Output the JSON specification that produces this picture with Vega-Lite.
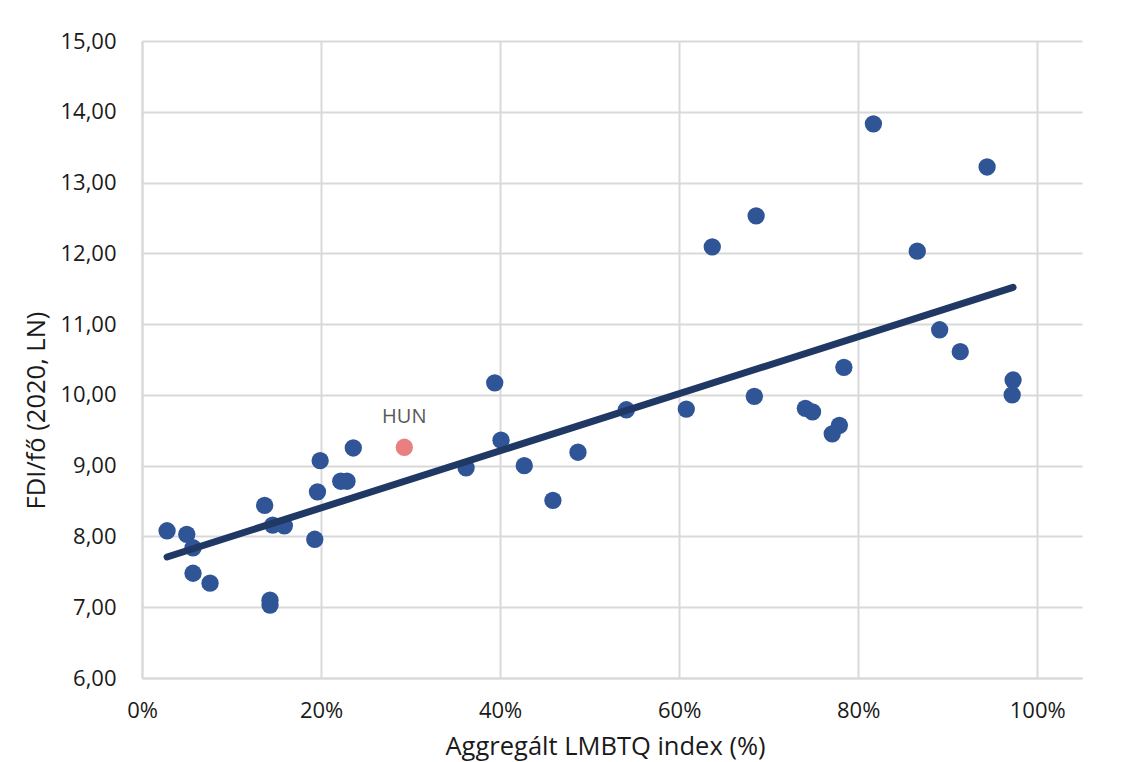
{
  "$schema": "https://vega.github.io/schema/vega-lite/v6.json",
  "width": 940,
  "height": 637,
  "autosize": {"type": "none"},
  "padding": {"left": 142, "top": 41, "right": 50, "bottom": 84},
  "background": "white",
  "config": {
    "font": "Open Sans",
    "view": {"stroke": null},
    "axis": {
      "gridColor": "#d9d9d9",
      "gridWidth": 2,
      "domainColor": "#d9d9d9",
      "domainWidth": 2,
      "ticks": false,
      "labelFont": "Open Sans",
      "labelFontSize": 22,
      "labelColor": "#1a1a1a",
      "titleFont": "Open Sans",
      "titleFontSize": 25.5,
      "titleFontWeight": "normal",
      "titleColor": "#1a1a1a"
    }
  },
  "datasets": {
    "pts": [
      {"lmbtq": 0.028, "fdi": 8.08, "country": ""},
      {"lmbtq": 0.050, "fdi": 8.03, "country": ""},
      {"lmbtq": 0.057, "fdi": 7.84, "country": ""},
      {"lmbtq": 0.057, "fdi": 7.48, "country": ""},
      {"lmbtq": 0.076, "fdi": 7.34, "country": ""},
      {"lmbtq": 0.137, "fdi": 8.44, "country": ""},
      {"lmbtq": 0.146, "fdi": 8.16, "country": ""},
      {"lmbtq": 0.159, "fdi": 8.15, "country": ""},
      {"lmbtq": 0.143, "fdi": 7.10, "country": ""},
      {"lmbtq": 0.143, "fdi": 7.03, "country": ""},
      {"lmbtq": 0.196, "fdi": 8.63, "country": ""},
      {"lmbtq": 0.193, "fdi": 7.96, "country": ""},
      {"lmbtq": 0.199, "fdi": 9.07, "country": ""},
      {"lmbtq": 0.222, "fdi": 8.78, "country": ""},
      {"lmbtq": 0.229, "fdi": 8.78, "country": ""},
      {"lmbtq": 0.236, "fdi": 9.25, "country": ""},
      {"lmbtq": 0.293, "fdi": 9.26, "country": "HUN"},
      {"lmbtq": 0.362, "fdi": 8.97, "country": ""},
      {"lmbtq": 0.394, "fdi": 10.17, "country": ""},
      {"lmbtq": 0.401, "fdi": 9.36, "country": ""},
      {"lmbtq": 0.427, "fdi": 9.00, "country": ""},
      {"lmbtq": 0.459, "fdi": 8.51, "country": ""},
      {"lmbtq": 0.487, "fdi": 9.19, "country": ""},
      {"lmbtq": 0.541, "fdi": 9.79, "country": ""},
      {"lmbtq": 0.608, "fdi": 9.80, "country": ""},
      {"lmbtq": 0.637, "fdi": 12.09, "country": ""},
      {"lmbtq": 0.686, "fdi": 12.53, "country": ""},
      {"lmbtq": 0.684, "fdi": 9.98, "country": ""},
      {"lmbtq": 0.741, "fdi": 9.81, "country": ""},
      {"lmbtq": 0.749, "fdi": 9.76, "country": ""},
      {"lmbtq": 0.771, "fdi": 9.45, "country": ""},
      {"lmbtq": 0.779, "fdi": 9.57, "country": ""},
      {"lmbtq": 0.784, "fdi": 10.39, "country": ""},
      {"lmbtq": 0.817, "fdi": 13.83, "country": ""},
      {"lmbtq": 0.866, "fdi": 12.03, "country": ""},
      {"lmbtq": 0.891, "fdi": 10.92, "country": ""},
      {"lmbtq": 0.914, "fdi": 10.61, "country": ""},
      {"lmbtq": 0.944, "fdi": 13.22, "country": ""},
      {"lmbtq": 0.973, "fdi": 10.21, "country": ""},
      {"lmbtq": 0.972, "fdi": 10.00, "country": ""}
    ],
    "trend": [
      {"lmbtq": 0.028, "fdi": 7.71},
      {"lmbtq": 0.973, "fdi": 11.52}
    ]
  },
  "layer": [
    {
      "data": {"name": "pts"},
      "mark": {"type": "circle", "opacity": 1, "size": 300},
      "encoding": {
        "x": {
          "field": "lmbtq", "type": "quantitative",
          "scale": {"domain": [0, 1.05], "nice": false, "zero": false},
          "axis": {
            "values": [0, 0.2, 0.4, 0.6, 0.8, 1.0],
            "format": ".0%",
            "title": "Aggregált LMBTQ index (%)",
            "labelPadding": 22,
            "titleX": 463,
            "titleY": 76,
            "titleBaseline": "alphabetic",
            "titleAnchor": "middle",
            "labelFlush": false
          }
        },
        "y": {
          "field": "fdi", "type": "quantitative",
          "scale": {"domain": [6, 15], "nice": false, "zero": false},
          "axis": {
            "values": [6, 7, 8, 9, 10, 11, 12, 13, 14, 15],
            "labelExpr": "replace(format(datum.value, '.2f'), '.', ',')",
            "title": "FDI/fő (2020, LN)",
            "labelPadding": 26,
            "titleX": -93,
            "titleY": 369,
            "titleAnchor": "middle",
            "labelFlush": false
          }
        },
        "color": {
          "condition": {"test": "datum.country === 'HUN'", "value": "#E88080"},
          "value": "#2F5597"
        }
      }
    },
    {
      "data": {"name": "trend"},
      "mark": {"type": "line", "color": "#203864", "strokeWidth": 7, "strokeCap": "round"},
      "encoding": {
        "x": {"field": "lmbtq", "type": "quantitative"},
        "y": {"field": "fdi", "type": "quantitative"}
      }
    },
    {
      "data": {"name": "pts"},
      "transform": [{"filter": "datum.country !== ''"}],
      "mark": {"type": "text", "dy": -30, "fontSize": 20, "color": "#595959", "font": "Open Sans", "baseline": "middle"},
      "encoding": {
        "x": {"field": "lmbtq", "type": "quantitative"},
        "y": {"field": "fdi", "type": "quantitative"},
        "text": {"field": "country"}
      }
    }
  ]
}
